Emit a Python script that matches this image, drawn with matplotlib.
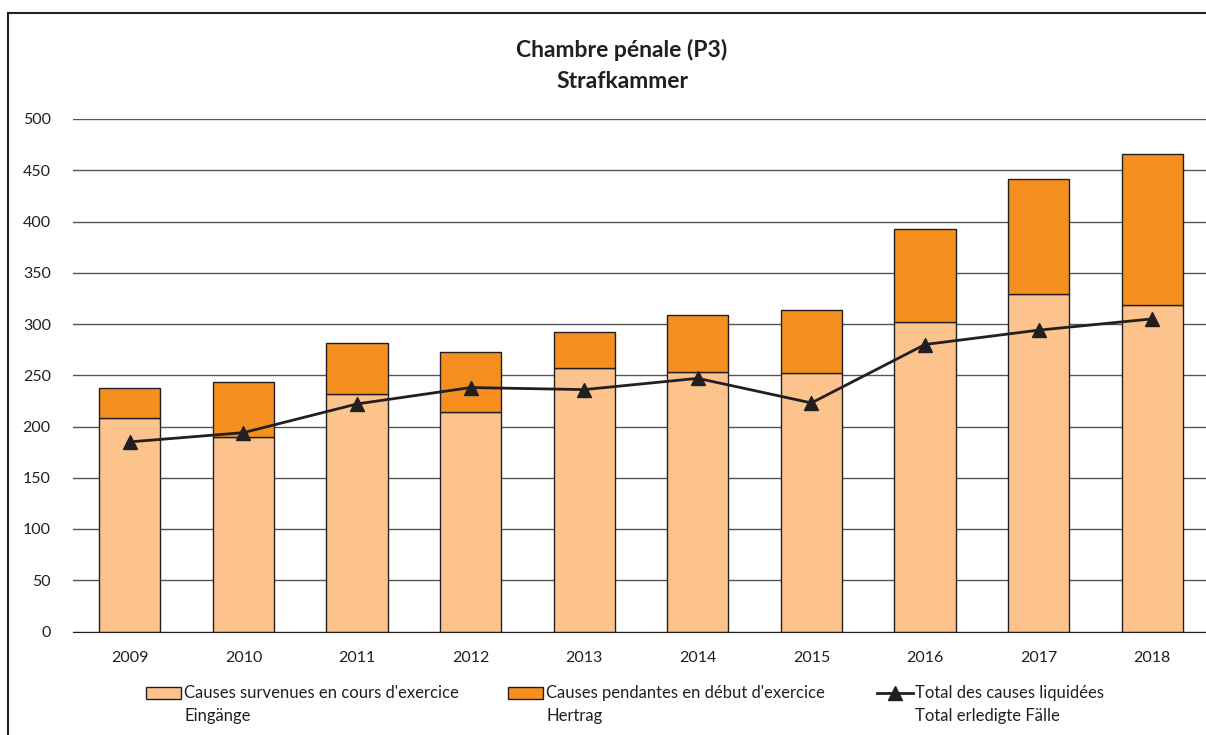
import matplotlib.pyplot as plt
from matplotlib.patches import Rectangle
from matplotlib.lines import Line2D
import numpy as np

plt.rcParams['font.family'] = ['Lato', 'DejaVu Sans']

years = ['2009', '2010', '2011', '2012', '2013', '2014', '2015', '2016', '2017', '2018']
# Eingänge (causes survenues en cours d'exercice)
eingaenge = [208, 190, 232, 214, 257, 253, 252, 302, 329, 319]
# Hertrag (causes pendantes en début d'exercice)
hertrag = [30, 53, 49, 59, 35, 56, 62, 91, 112, 147]
# Total erledigte Fälle
erledigt = [185, 194, 222, 238, 236, 247, 223, 280, 294, 305]

light = '#FCC48C'
orange = '#F48F20'
dark = '#231F20'

W, H = 1206, 735
fig = plt.figure(figsize=(W / 100, H / 100), dpi=100)
ax = fig.add_axes([73 / W, (H - 631.5) / H, (1209 - 73) / W, (631.5 - 119) / H])

x = np.arange(len(years))
ax.bar(x, eingaenge, width=0.54, color=light, edgecolor=dark, linewidth=1, zorder=2)
ax.bar(x, hertrag, width=0.54, bottom=eingaenge, color=orange, edgecolor=dark,
       linewidth=1, zorder=2)
ax.plot(x, erledigt, color=dark, lw=2, marker='^', markersize=10, zorder=3)

ax.set_xlim(-0.5, len(years) - 0.5)
ax.set_ylim(0, 500)
ax.set_yticks(range(0, 501, 50))
ax.set_xticks(x)
ax.set_xticklabels(years)
ax.yaxis.grid(True, color='#555555', lw=1)
ax.set_axisbelow(True)
for s in ['left', 'right', 'top']:
    ax.spines[s].set_visible(False)
ax.spines['bottom'].set_color(dark)
ax.tick_params(axis='both', length=0, labelsize=11.5, colors=dark)
ax.tick_params(axis='y', pad=16)
ax.tick_params(axis='x', pad=14)

fig.text(622 / W, 1 - 50 / H, 'Chambre pénale (P3)', ha='center', va='center',
         fontsize=16.5, fontweight='bold', color=dark)
fig.text(622 / W, 1 - 82 / H, 'Strafkammer', ha='center', va='center',
         fontsize=16.5, fontweight='bold', color=dark)

# outer frame (only top and left edges are inside the picture)
fig.add_artist(Line2D([8 / W, 1], [1 - 13 / H] * 2, transform=fig.transFigure,
                      color=dark, lw=1.5))
fig.add_artist(Line2D([8 / W] * 2, [0, 1 - 13 / H], transform=fig.transFigure,
                      color=dark, lw=1.5))

# legend drawn by hand
entries = [
    (146, 'patch', light, "Causes survenues en cours d'exercice", 'Eingänge'),
    (508, 'patch', orange, "Causes pendantes en début d'exercice", 'Hertrag'),
    (877, 'line', dark, 'Total des causes liquidées', 'Total erledigte Fälle'),
]
for x0, kind, col, l1, l2 in entries:
    if kind == 'patch':
        fig.add_artist(Rectangle((x0 / W, 1 - 699 / H), 35 / W, 12 / H,
                                 transform=fig.transFigure, facecolor=col,
                                 edgecolor=dark, lw=1))
    else:
        fig.add_artist(Line2D([x0 / W, (x0 + 36) / W], [1 - 693 / H] * 2,
                              transform=fig.transFigure, color=col, lw=2))
        fig.add_artist(Line2D([(x0 + 18) / W], [1 - 693 / H], transform=fig.transFigure,
                              color=col, marker='^', markersize=10))
    fig.text((x0 + 38) / W, 1 - 693 / H, l1, ha='left', va='center', fontsize=12, color=dark)
    fig.text((x0 + 38) / W, 1 - 716 / H, l2, ha='left', va='center', fontsize=12, color=dark)

fig.savefig('out.png', dpi=100)
